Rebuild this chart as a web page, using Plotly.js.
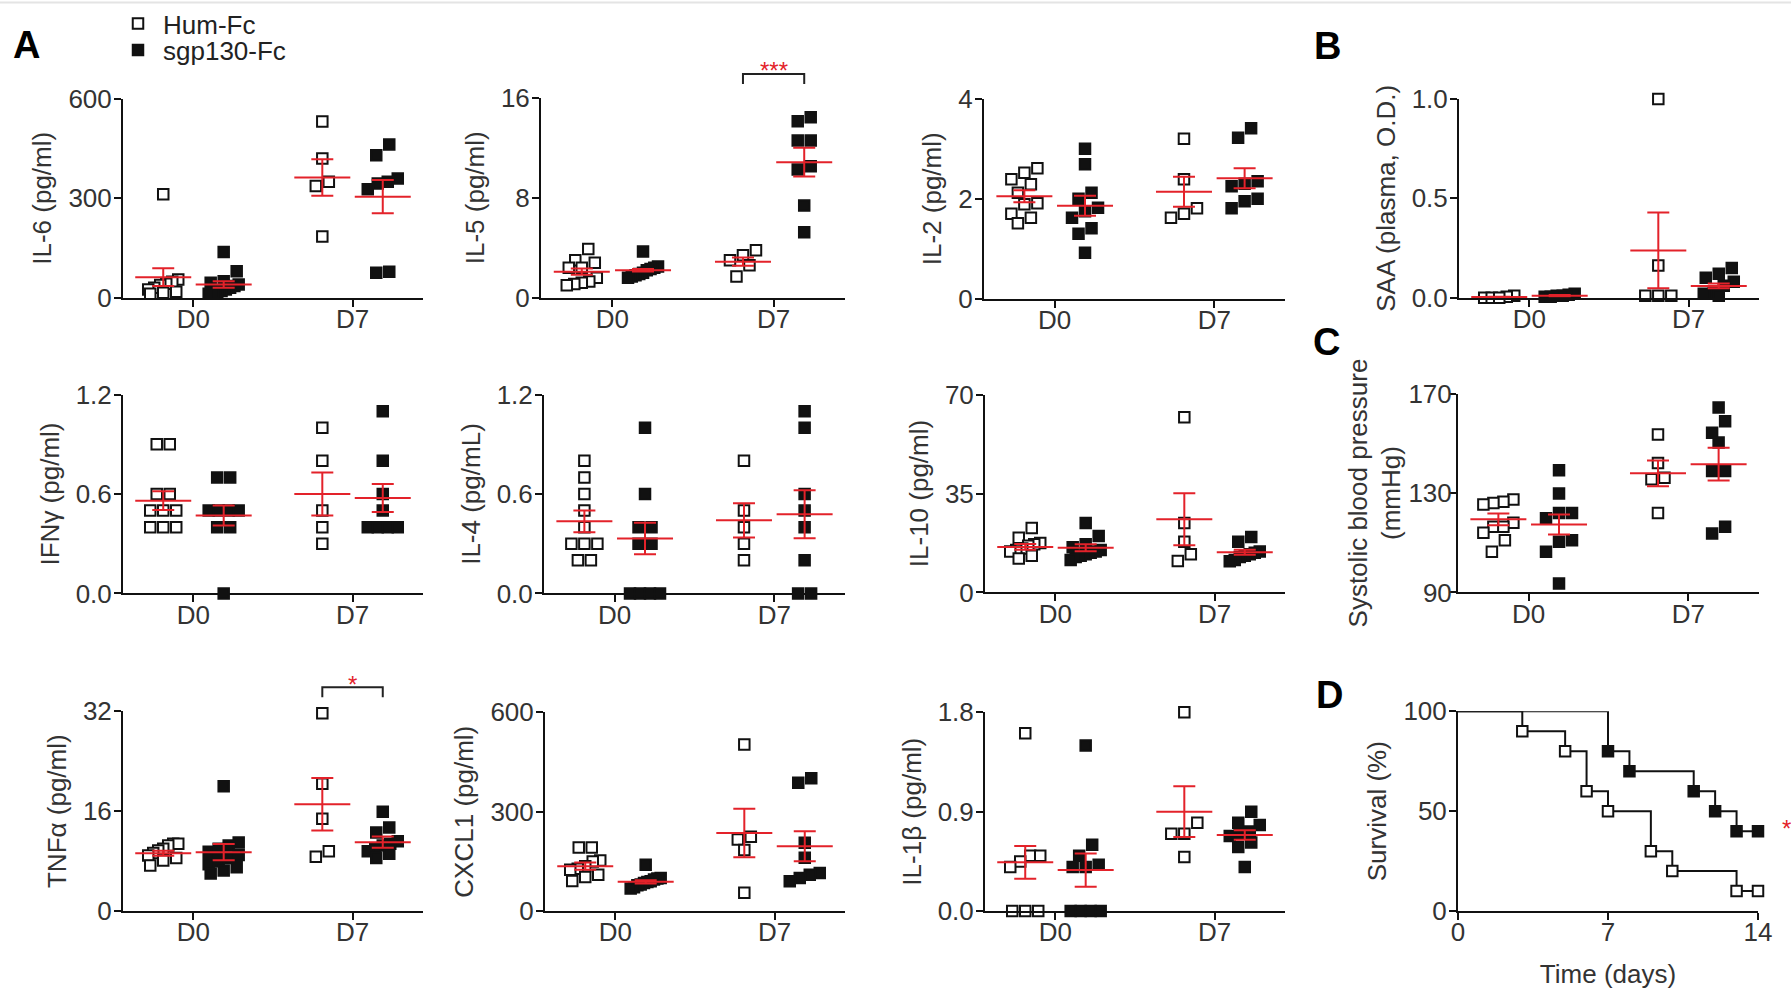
<!DOCTYPE html>
<html>
<head>
<meta charset="utf-8">
<script src="https://cdn.plot.ly/plotly-3.0.1.min.js"></script>
<style>
html,body{margin:0;padding:0;background:#ffffff;}
#wrap{position:relative;width:1791px;height:990px;overflow:hidden;}
#bg{position:absolute;left:0;top:0;}
#chart{position:absolute;left:0;top:0;width:1791px;height:990px;}
</style>
</head>
<body>
<div id="wrap">
<svg id="bg" width="1791" height="990" xmlns="http://www.w3.org/2000/svg">
  <line x1="0" y1="2.5" x2="1791" y2="2.5" stroke="#e4e4e4" stroke-width="2"/>
</svg>
<div id="chart"></div>
</div>
<script>
// ---------------- DATA ----------------
const CATEGORIES = ['D0', 'D7'];
const GROUPS = ['Hum-Fc', 'sgp130-Fc'];

// IL-6 (pg/ml)
const IL6_HUM_D0 = [312, 55, 48, 42, 38, 30, 25, 18, 15, 12];
const IL6_SGP_D0 = [138, 80, 50, 45, 40, 35, 30, 25, 20, 18, 15, 12];
const IL6_HUM_D7 = [532, 420, 350, 337, 185];
const IL6_SGP_D7 = [462, 430, 360, 350, 345, 327, 78, 75];
const IL6_MEAN = [62, 40, 363, 305];
const IL6_SEM = [27, 10, 55, 50];

// IL-5 (pg/ml)
const IL5_HUM_D0 = [3.9, 3.0, 2.8, 2.4, 2.4, 1.6, 1.3, 1.2, 1.1, 1.0];
const IL5_SGP_D0 = [3.7, 2.5, 2.4, 2.3, 2.2, 2.0, 1.9, 1.8, 1.7, 1.6];
const IL5_HUM_D7 = [3.8, 3.4, 3.0, 2.6, 1.7];
const IL5_SGP_D7 = [14.45, 14.13, 12.59, 12.59, 10.53, 10.27, 7.39, 5.25];
const IL5_MEAN = [2.08, 2.19, 2.88, 10.85];
const IL5_SEM = [0.25, 0.1, 0.33, 1.15];

// IL-2 (pg/ml)
const IL2_HUM_D0 = [2.61, 2.52, 2.39, 2.29, 2.12, 1.91, 1.89, 1.7, 1.62, 1.51];
const IL2_SGP_D0 = [3.0, 2.69, 2.12, 2.0, 1.82, 1.75, 1.62, 1.41, 1.3, 0.92];
const IL2_HUM_D7 = [3.2, 2.39, 1.81, 1.7, 1.62];
const IL2_SGP_D7 = [3.41, 3.22, 2.35, 2.3, 2.25, 2.0, 1.95, 1.81];
const IL2_MEAN = [2.05, 1.86, 2.14, 2.41];
const IL2_SEM = [0.12, 0.2, 0.3, 0.2];

// SAA (plasma, O.D.)
const SAA_HUM_D0 = [0.01, 0.005, 0.0, 0.0, 0.0];
const SAA_SGP_D0 = [0.02, 0.015, 0.01, 0.01, 0.005, 0.005];
const SAA_HUM_D7 = [1.0, 0.162, 0.01, 0.01, 0.01];
const SAA_SGP_D7 = [0.15, 0.12, 0.1, 0.08, 0.06, 0.03, 0.02, 0.01];
const SAA_MEAN = [0.003, 0.01, 0.238, 0.059];
const SAA_SEM = [0.002, 0.003, 0.19, 0.012];

// IFN-gamma (pg/ml)
const IFNG_HUM_D0 = [0.9, 0.9, 0.6, 0.6, 0.5, 0.5, 0.5, 0.4, 0.4, 0.4];
const IFNG_SGP_D0 = [0.7, 0.7, 0.5, 0.5, 0.5, 0.5, 0.4, 0.4, 0.0];
const IFNG_HUM_D7 = [1.0, 0.8, 0.5, 0.4, 0.3];
const IFNG_SGP_D7 = [1.1, 0.8, 0.6, 0.5, 0.4, 0.4, 0.4, 0.4];
const IFNG_MEAN = [0.56, 0.47, 0.6, 0.576];
const IFNG_SEM = [0.057, 0.06, 0.13, 0.085];

// IL-4 (pg/mL)
const IL4_HUM_D0 = [0.8, 0.7, 0.6, 0.5, 0.4, 0.3, 0.3, 0.3, 0.2, 0.2];
const IL4_SGP_D0 = [1.0, 0.6, 0.4, 0.4, 0.3, 0.3, 0.0, 0.0, 0.0, 0.0];
const IL4_HUM_D7 = [0.8, 0.5, 0.4, 0.3, 0.2];
const IL4_SGP_D7 = [1.1, 1.0, 0.6, 0.5, 0.4, 0.2, 0.0, 0.0];
const IL4_MEAN = [0.435, 0.331, 0.441, 0.478];
const IL4_SEM = [0.066, 0.095, 0.103, 0.145];

// IL-10 (pg/ml)
const IL10_HUM_D0 = [22.8, 19.3, 17.5, 17, 16.5, 15.5, 15, 14.5, 13, 12];
const IL10_SGP_D0 = [24.6, 20, 17, 16, 15, 14.5, 14, 13.5, 13, 12.5, 11.5];
const IL10_HUM_D7 = [62, 24.6, 17.9, 13.5, 11.1];
const IL10_SGP_D7 = [19.6, 17.9, 14.5, 14, 13.5, 13, 12.5, 11.5, 11];
const IL10_MEAN = [16.1, 15.8, 25.9, 14.2];
const IL10_SEM = [1.0, 1.2, 9.2, 0.85];

// Systolic blood pressure (mmHg)
const SBP_HUM_D0 = [127.4, 126.5, 126, 125.4, 118, 116.4, 116.4, 114, 111, 106.4];
const SBP_SGP_D0 = [139.2, 129.8, 122, 122, 119.8, 111, 110.4, 106.4, 93.6];
const SBP_HUM_D7 = [153.5, 142.1, 136.1, 135.5, 122];
const SBP_SGP_D7 = [164.4, 158.9, 154.2, 150.3, 138.9, 138.9, 116.4, 113.7];
const SBP_MEAN = [119.4, 117.3, 137.9, 141.6];
const SBP_SEM = [2.4, 4.0, 5.2, 6.6];

// TNF-alpha (pg/ml)
const TNF_HUM_D0 = [10.8, 10.8, 10.5, 10, 9.7, 9.3, 8.9, 8.5, 8.1, 7.3];
const TNF_SGP_D0 = [20, 11, 10.5, 10, 9.5, 9, 8.5, 8, 7.5, 7, 6.5, 6];
const TNF_HUM_D7 = [31.7, 20.4, 14.8, 9.6, 8.7];
const TNF_SGP_D7 = [15.9, 13.4, 12.6, 11.2, 10.8, 10.5, 10, 9.6, 9.2, 8.5];
const TNF_MEAN = [9.28, 9.44, 17.1, 11.04];
const TNF_SEM = [0.4, 1.3, 4.2, 0.9];

// CXCL1 (pg/ml)
const CXCL1_HUM_D0 = [192, 192, 153, 150, 135, 128, 125, 110, 103, 91];
const CXCL1_SGP_D0 = [140, 100, 98, 95, 90, 88, 85, 80, 78, 72, 68];
const CXCL1_HUM_D7 = [503, 224, 216, 184, 55];
const CXCL1_SGP_D7 = [401, 387, 206, 161, 115, 110, 100, 90];
const CXCL1_MEAN = [135.5, 88.3, 235.7, 195.7];
const CXCL1_SEM = [11, 5, 73, 45];

// IL-1beta (pg/ml)
const IL1B_HUM_D0 = [1.61, 0.5, 0.5, 0.45, 0.4, 0.0, 0.0, 0.0];
const IL1B_SGP_D0 = [1.5, 0.6, 0.5, 0.42, 0.4, 0.4, 0.0, 0.0, 0.0, 0.0];
const IL1B_HUM_D7 = [1.8, 0.8, 0.7, 0.7, 0.49];
const IL1B_SGP_D7 = [0.9, 0.8, 0.78, 0.72, 0.7, 0.68, 0.62, 0.58, 0.4];
const IL1B_MEAN = [0.441, 0.371, 0.9, 0.689];
const IL1B_SEM = [0.148, 0.15, 0.23, 0.043];

// Survival (%)
const SURV_HUM_T = [0, 3, 5, 6, 7, 9, 10, 13, 14];
const SURV_HUM_P = [100, 90, 80, 60, 50, 30, 20, 10, 10];
const SURV_SGP_T = [0, 7, 8, 11, 12, 13, 14];
const SURV_SGP_P = [100, 80, 70, 60, 50, 40, 40];

// ---------------- STYLE / LAYOUT ----------------
const W = 1791, H = 990;
const RED = '#e3222a';
const INK = '#111111';
const TXT = '#333333';
const FONT = 'Arial, "Liberation Sans", Helvetica, sans-serif';
const FS = 26;
const XR = [-0.443, 1.443];
const OFF = 0.19;
const GROUP_X = [-OFF, OFF, 1 - OFF, 1 + OFF];

const PANELS = [
  {box: [123, 423, 98, 297], yr: [0, 600], tv: [0, 300, 600], tt: ['0', '300', '600'], title: 'IL-6 (pg/ml)',
   data: [IL6_HUM_D0, IL6_SGP_D0, IL6_HUM_D7, IL6_SGP_D7], mean: IL6_MEAN, sem: IL6_SEM, legend: true},
  {box: [541, 845, 97, 297], yr: [0, 16], tv: [0, 8, 16], tt: ['0', '8', '16'], title: 'IL-5 (pg/ml)',
   data: [IL5_HUM_D0, IL5_SGP_D0, IL5_HUM_D7, IL5_SGP_D7], mean: IL5_MEAN, sem: IL5_SEM, sig: '***'},
  {box: [984, 1285, 98, 298], yr: [0, 4], tv: [0, 2, 4], tt: ['0', '2', '4'], title: 'IL-2 (pg/ml)',
   data: [IL2_HUM_D0, IL2_SGP_D0, IL2_HUM_D7, IL2_SGP_D7], mean: IL2_MEAN, sem: IL2_SEM},
  {box: [1459, 1759, 98, 297], yr: [0, 1], tv: [0, 0.5, 1], tt: ['0.0', '0.5', '1.0'], title: 'SAA (plasma, O.D.)',
   data: [SAA_HUM_D0, SAA_SGP_D0, SAA_HUM_D7, SAA_SGP_D7], mean: SAA_MEAN, sem: SAA_SEM},
  {box: [123, 423, 394, 593], yr: [0, 1.2], tv: [0, 0.6, 1.2], tt: ['0.0', '0.6', '1.2'], title: 'IFNγ (pg/ml)',
   data: [IFNG_HUM_D0, IFNG_SGP_D0, IFNG_HUM_D7, IFNG_SGP_D7], mean: IFNG_MEAN, sem: IFNG_SEM},
  {box: [544, 845, 394, 593], yr: [0, 1.2], tv: [0, 0.6, 1.2], tt: ['0.0', '0.6', '1.2'], title: 'IL-4 (pg/mL)',
   data: [IL4_HUM_D0, IL4_SGP_D0, IL4_HUM_D7, IL4_SGP_D7], mean: IL4_MEAN, sem: IL4_SEM},
  {box: [985, 1285, 394, 592], yr: [0, 70], tv: [0, 35, 70], tt: ['0', '35', '70'], title: 'IL-10 (pg/ml)',
   data: [IL10_HUM_D0, IL10_SGP_D0, IL10_HUM_D7, IL10_SGP_D7], mean: IL10_MEAN, sem: IL10_SEM},
  {box: [1458, 1759, 393, 592], yr: [90, 170], tv: [90, 130, 170], tt: ['90', '130', '170'], title: 'Systolic blood pressure<br>(mmHg)',
   data: [SBP_HUM_D0, SBP_SGP_D0, SBP_HUM_D7, SBP_SGP_D7], mean: SBP_MEAN, sem: SBP_SEM, standoff: 0, labelShift: -8},
  {box: [123, 423, 711, 911], yr: [0, 32], tv: [0, 16, 32], tt: ['0', '16', '32'], title: 'TNFα (pg/ml)',
   data: [TNF_HUM_D0, TNF_SGP_D0, TNF_HUM_D7, TNF_SGP_D7], mean: TNF_MEAN, sem: TNF_SEM, sig: '*'},
  {box: [545, 845, 712, 911], yr: [0, 600], tv: [0, 300, 600], tt: ['0', '300', '600'], title: 'CXCL1 (pg/ml)',
   data: [CXCL1_HUM_D0, CXCL1_SGP_D0, CXCL1_HUM_D7, CXCL1_SGP_D7], mean: CXCL1_MEAN, sem: CXCL1_SEM},
  {box: [985, 1285, 712, 911], yr: [0, 1.8], tv: [0, 0.9, 1.8], tt: ['0.0', '0.9', '1.8'], title: 'IL-1β (pg/ml)',
   data: [IL1B_HUM_D0, IL1B_SGP_D0, IL1B_HUM_D7, IL1B_SGP_D7], mean: IL1B_MEAN, sem: IL1B_SEM}
];
const SURV_BOX = [1458, 1758, 711, 911];

// spread points of one column in rows (GraphPad-like scatter)
function swarmX(values, center, pxPerX, pxPerY) {
  const S = 12, STEP = 13, MAXSPAN = 30;
  const order = values.map((v, i) => i).sort((a, b) => values[b] - values[a] || a - b);
  const rows = [];
  let row = null;
  order.forEach(i => {
    const py = values[i] * pxPerY;
    if (!row || row.top - py >= S) { row = {top: py, items: []}; rows.push(row); }
    row.items.push(i);
  });
  const xs = new Array(values.length);
  rows.forEach(r => {
    const items = r.items.slice().sort((a, b) => values[a] - values[b] || a - b);
    const n = items.length;
    const sp = n > 1 ? Math.min(STEP, MAXSPAN / (n - 1)) : 0;
    items.forEach((i, k) => { xs[i] = center + ((k - (n - 1) / 2) * sp) / pxPerX; });
  });
  return xs;
}

const traces = [];
const layout = {
  width: W, height: H,
  margin: {l: 0, r: 0, t: 0, b: 0},
  paper_bgcolor: 'rgba(0,0,0,0)',
  plot_bgcolor: 'rgba(0,0,0,0)',
  font: {family: FONT, size: FS, color: TXT},
  hovermode: false,
  showlegend: true,
  shapes: [],
  annotations: []
};

function axisBase(letter) {
  return {
    ticks: 'outside', ticklen: 7, tickwidth: 2, tickcolor: INK,
    showline: true, linewidth: 2, linecolor: INK,
    showgrid: false, zeroline: false, fixedrange: true,
    tickfont: {family: FONT, size: FS, color: TXT},
    tickmode: 'array',
    ticklabelstandoff: letter === 'x' ? -10 : -3
  };
}

function addPanel(p, idx) {
  const n = idx + 1;
  const sx = n === 1 ? '' : String(n);
  const xid = 'x' + sx, yid = 'y' + sx;
  const [L, R, T, B] = p.box;
  const xa = Object.assign(axisBase('x'), {
    domain: [L / W, R / W], range: XR, anchor: yid,
    tickvals: [0, 1], ticktext: CATEGORIES
  });
  const ya = Object.assign(axisBase('y'), {
    domain: [1 - B / H, 1 - T / H], range: p.yr, anchor: xid,
    tickvals: p.tv, ticktext: p.tt,
    title: {text: p.title, font: {family: FONT, size: FS, color: TXT}, standoff: p.standoff !== undefined ? p.standoff : 9}
  });
  if (p.labelShift !== undefined) ya.ticklabelstandoff = p.labelShift;
  layout['xaxis' + sx] = xa;
  layout['yaxis' + sx] = ya;

  const pxPerX = (R - L) / (XR[1] - XR[0]);
  const pxPerY = (B - T) / (p.yr[1] - p.yr[0]);

  p.data.forEach((vals, g) => {
    const filled = g % 2 === 1;
    const xs = swarmX(vals, GROUP_X[g], pxPerX, pxPerY);
    traces.push({
      type: 'scatter', mode: 'markers', x: xs, y: vals, xaxis: xid, yaxis: yid,
      name: GROUPS[g % 2],
      legend: filled ? 'legend2' : 'legend',
      showlegend: !!p.legend && g < 2,
      cliponaxis: false,
      marker: {symbol: 'square', size: 10.5, color: filled ? INK : '#ffffff', line: {color: INK, width: 2}}
    });
  });
  traces.push({
    type: 'scatter', mode: 'markers', x: GROUP_X, y: p.mean, xaxis: xid, yaxis: yid,
    showlegend: false, cliponaxis: false,
    marker: {symbol: 'line-ew', size: 40, color: RED, line: {color: RED, width: 2}},
    error_y: {type: 'data', array: p.sem, visible: true, color: RED, thickness: 2, width: 11}
  });

  if (p.sig) {
    const x1 = L + (GROUP_X[2] - XR[0]) * pxPerX;
    const x2 = L + (GROUP_X[3] - XR[0]) * pxPerX;
    const yTop = T - 24, yLeg = T - 14;
    layout.shapes.push({
      type: 'path', xref: 'paper', yref: 'paper',
      path: `M ${x1 / W},${1 - yLeg / H} L ${x1 / W},${1 - yTop / H} L ${x2 / W},${1 - yTop / H} L ${x2 / W},${1 - yLeg / H}`,
      line: {color: '#222222', width: 2}
    });
    layout.annotations.push({
      xref: 'paper', yref: 'paper', x: (x1 + x2) / 2 / W, y: 1 - (T - 27) / H,
      xanchor: 'center', yanchor: 'middle', showarrow: false,
      text: p.sig, font: {family: FONT, size: 24, color: RED}
    });
  }
}

PANELS.forEach(addPanel);

// Survival panel (D)
(function () {
  const n = PANELS.length + 1;
  const sx = String(n);
  const xid = 'x' + sx, yid = 'y' + sx;
  const [L, R, T, B] = SURV_BOX;
  layout['xaxis' + sx] = Object.assign(axisBase('x'), {
    domain: [L / W, R / W], range: [0, 14], anchor: yid,
    tickvals: [0, 7, 14], ticktext: ['0', '7', '14'],
    title: {text: 'Time (days)', font: {family: FONT, size: FS, color: TXT}, standoff: 19}
  });
  layout['yaxis' + sx] = Object.assign(axisBase('y'), {
    domain: [1 - B / H, 1 - T / H], range: [0, 100], anchor: xid,
    tickvals: [0, 50, 100], ticktext: ['0', '50', '100'],
    title: {text: 'Survival (%)', font: {family: FONT, size: FS, color: TXT}, standoff: 9}
  });
  [[SURV_HUM_T, SURV_HUM_P, '#ffffff'], [SURV_SGP_T, SURV_SGP_P, INK]].forEach(([t, s, fill], g) => {
    traces.push({
      type: 'scatter', mode: 'lines', x: t, y: s, xaxis: xid, yaxis: yid,
      line: {shape: 'hv', color: INK, width: 2}, showlegend: false, cliponaxis: false
    });
    traces.push({
      type: 'scatter', mode: 'markers', x: t.slice(1), y: s.slice(1), xaxis: xid, yaxis: yid,
      showlegend: false, cliponaxis: false, name: GROUPS[g],
      marker: {symbol: 'square', size: 10.5, color: fill, line: {color: INK, width: 2}}
    });
  });
  layout.annotations.push({
    xref: 'paper', yref: 'paper', x: 1786 / W, y: 1 - 828 / H, xanchor: 'center', yanchor: 'middle',
    showarrow: false, text: '*', font: {family: FONT, size: 24, color: RED}
  });
})();

// Legends
layout.legend = {
  x: 113 / W, y: 1 - 23 / H, xanchor: 'left', yanchor: 'middle',
  bgcolor: 'rgba(0,0,0,0)', borderwidth: 0, itemwidth: 40,
  font: {family: FONT, size: FS, color: '#222222'}
};
layout.legend2 = {
  x: 113 / W, y: 1 - 50 / H, xanchor: 'left', yanchor: 'middle',
  bgcolor: 'rgba(0,0,0,0)', borderwidth: 0, itemwidth: 40,
  font: {family: FONT, size: FS, color: '#222222'}
};

// Panel letters
[['A', 26.5, 44], ['B', 1327.5, 45.5], ['C', 1326, 341], ['D', 1329, 695]].forEach(([t, x, y]) => {
  layout.annotations.push({
    xref: 'paper', yref: 'paper', x: x / W, y: 1 - y / H, xanchor: 'center', yanchor: 'middle',
    showarrow: false, text: '<b>' + t + '</b>', font: {family: FONT, size: 38, color: '#000000'}
  });
});

Plotly.newPlot('chart', traces, layout, {displayModeBar: false, staticPlot: true});
</script>
</body>
</html>
